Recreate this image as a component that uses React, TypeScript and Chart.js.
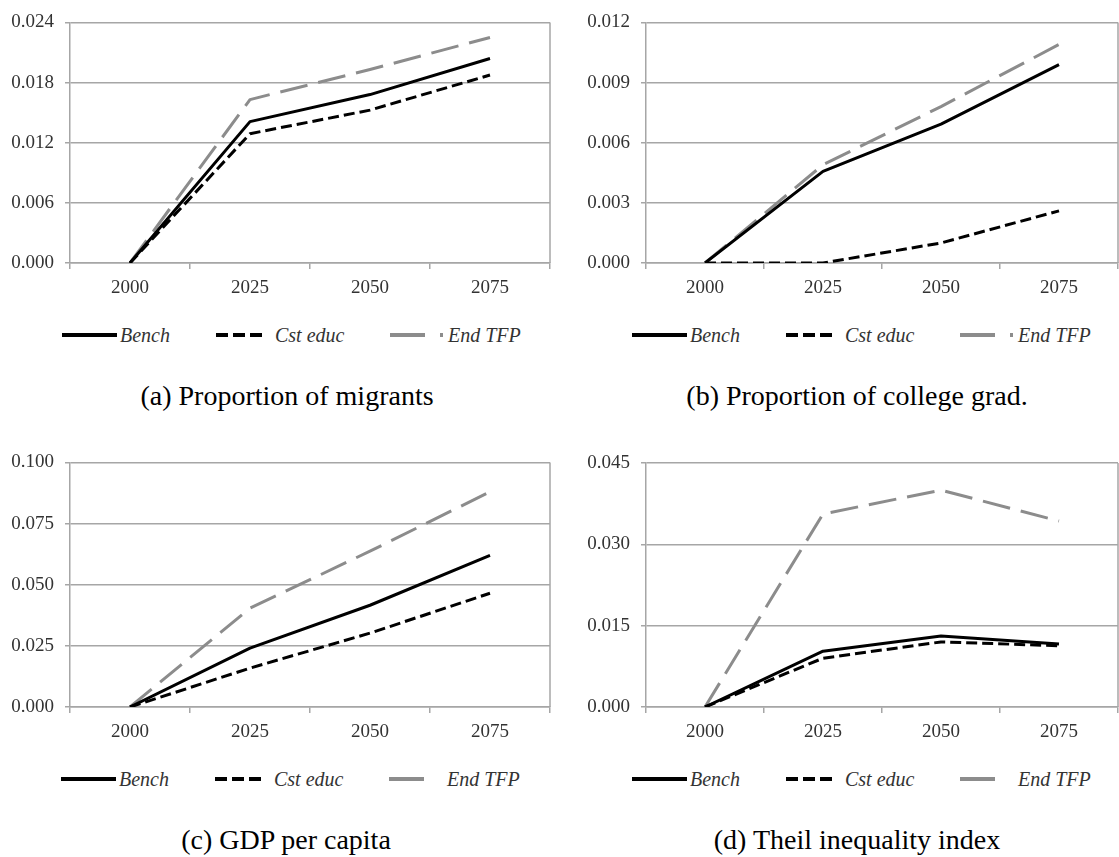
import React, { useEffect, useRef } from 'react';
import { Chart, registerables } from 'chart.js';

Chart.register(...registerables);

// ---------- data ----------
const YEARS = ['2000', '2025', '2050', '2075'];
const SERIES = ['Bench', 'Cst educ', 'End TFP'];

// (a) Proportion of migrants
const MIGRANTS_BENCH = [0, 0.0141, 0.0168, 0.0204];
const MIGRANTS_CST = [0, 0.0129, 0.01525, 0.01875];
const MIGRANTS_TFP = [0, 0.0163, 0.0193, 0.0225];
// (b) Proportion of college grad.
const COLLEGE_BENCH = [0, 0.00457, 0.00693, 0.00989];
const COLLEGE_CST = [0, 0, 0.001, 0.0026];
const COLLEGE_TFP = [0, 0.0049, 0.0078, 0.0109];
// (c) GDP per capita
const GDP_BENCH = [0, 0.0241, 0.0416, 0.062];
const GDP_CST = [0, 0.0159, 0.0302, 0.0465];
const GDP_TFP = [0, 0.0404, 0.0637, 0.088];
// (d) Theil inequality index
const THEIL_BENCH = [0, 0.0103, 0.0131, 0.0116];
const THEIL_CST = [0, 0.009, 0.012, 0.0113];
const THEIL_TFP = [0, 0.0356, 0.04, 0.0343];

const Y_MAX = [0.024, 0.012, 0.1, 0.045];
const Y_STEP = [0.006, 0.003, 0.025, 0.015];
const CAPTIONS = [
  '(a) Proportion of migrants',
  '(b) Proportion of college grad.',
  '(c) GDP per capita',
  '(d) Theil inequality index',
];

// ---------- styles ----------
const GRID = '#a6a6a6';
const TEXT = '#333333';
const TICK_FONT = { family: 'Liberation Serif', size: 19 };
const LINE_STYLES = [
  { color: '#000000', dash: [] as number[], width: 3 },
  { color: '#000000', dash: [11, 5], width: 3 },
  { color: '#8c8c8c', dash: [28, 11], width: 3 },
];

const framePlugin = {
  id: 'frame',
  beforeDatasetsDraw(chart: any) {
    const { ctx, chartArea: a } = chart;
    ctx.save();
    ctx.strokeStyle = GRID;
    ctx.lineWidth = 1.5;
    ctx.beginPath();
    ctx.moveTo(a.right, a.top);
    ctx.lineTo(a.right, a.bottom);
    ctx.stroke();
    ctx.restore();
  },
};

type Area = { left: number; right: number; top: number; bottom: number };

function Panel(props: {
  idx: number;
  series: number[][];
  left: number;
  top: number;
  width: number;
  height: number;
  area: Area;
}) {
  const { idx, series, left, top, width, height, area } = props;
  const ref = useRef<HTMLCanvasElement>(null);
  useEffect(() => {
    if (!ref.current) return;
    const chart = new Chart(ref.current, {
      type: 'line',
      data: {
        labels: YEARS,
        datasets: series.map((d, i) => ({
          label: SERIES[i],
          data: d,
          borderColor: LINE_STYLES[i].color,
          backgroundColor: LINE_STYLES[i].color,
          borderWidth: LINE_STYLES[i].width,
          borderDash: LINE_STYLES[i].dash,
          borderCapStyle: 'butt',
          borderJoinStyle: 'round',
          pointRadius: 0,
          fill: false,
          tension: 0,
        })),
      },
      options: {
        responsive: false,
        animation: false,
        layout: { padding: { left: 0, right: width - area.right, top: area.top, bottom: 0 } },
        plugins: { legend: { display: false }, tooltip: { enabled: false } },
        scales: {
          x: {
            type: 'category',
            offset: true,
            grid: {
              offset: true,
              drawOnChartArea: false,
              drawTicks: true,
              tickLength: 6,
              tickColor: GRID,
              tickWidth: 1.5,
              color: GRID,
              lineWidth: 1.5,
            },
            border: { display: true, color: GRID, width: 1.5 },
            ticks: { font: TICK_FONT, color: TEXT, padding: 8, maxRotation: 0, autoSkip: false },
            afterFit: (s: any) => {
              s.height = height - area.bottom;
            },
          },
          y: {
            min: 0,
            max: Y_MAX[idx],
            ticks: {
              stepSize: Y_STEP[idx],
              callback: (v: any) => Number(v).toFixed(3),
              font: TICK_FONT,
              color: TEXT,
              padding: 11,
            },
            grid: { color: GRID, lineWidth: 1.5, tickLength: 5, tickColor: GRID },
            border: { display: true, color: GRID, width: 1.5 },
            afterFit: (s: any) => {
              s.width = area.left;
            },
          },
        },
      } as any,
      plugins: [framePlugin],
    });
    return () => chart.destroy();
  }, []);
  return (
    <canvas
      ref={ref}
      width={width}
      height={height}
      style={{ position: 'absolute', left, top, width, height }}
    />
  );
}

function Legend(props: { x0: number; yc: number; dot: boolean }) {
  const { x0, yc, dot } = props;
  const textStyle = (x: number): React.CSSProperties => ({
    position: 'absolute',
    left: x,
    top: yc - 10,
    font: 'italic 20px "Liberation Serif"',
    lineHeight: '20px',
    color: TEXT,
    whiteSpace: 'nowrap',
  });
  const sample = (x: number, w: number, color: string, dash?: string) => (
    <svg width={w} height={6} style={{ position: 'absolute', left: x, top: yc - 3 }}>
      <line x1={0} y1={3} x2={w} y2={3} stroke={color} strokeWidth={4} strokeDasharray={dash} />
    </svg>
  );
  return (
    <>
      {sample(x0, 55, LINE_STYLES[0].color)}
      <div style={textStyle(x0 + 58)}>{SERIES[0]}</div>
      {sample(x0 + 154, 46, LINE_STYLES[1].color, '12 5')}
      <div style={textStyle(x0 + 213)}>{SERIES[1]}</div>
      {sample(x0 + 328, 35, LINE_STYLES[2].color)}
      {dot ? sample(x0 + 378, 3, LINE_STYLES[2].color) : null}
      <div style={textStyle(x0 + 386)}>{SERIES[2]}</div>
    </>
  );
}

function Caption(props: { text: string; cx: number; top: number }) {
  return (
    <div
      style={{
        position: 'absolute',
        left: props.cx - 300,
        width: 600,
        top: props.top,
        textAlign: 'center',
        font: '28px "Liberation Serif"',
        lineHeight: '28px',
        color: '#000',
        whiteSpace: 'nowrap',
      }}
    >
      {props.text}
    </div>
  );
}

export default function App() {
  return (
    <div
      style={{
        position: 'absolute',
        left: 0,
        top: 0,
        width: 1119,
        height: 857,
        background: '#ffffff',
        overflow: 'hidden',
      }}
    >
      <Panel
        idx={0}
        series={[MIGRANTS_BENCH, MIGRANTS_CST, MIGRANTS_TFP]}
        left={0}
        top={0}
        width={560}
        height={310}
        area={{ left: 70, right: 550, top: 17, bottom: 263 }}
      />
      <Panel
        idx={1}
        series={[COLLEGE_BENCH, COLLEGE_CST, COLLEGE_TFP]}
        left={560}
        top={0}
        width={559}
        height={310}
        area={{ left: 86, right: 558, top: 19, bottom: 263 }}
      />
      <Panel
        idx={2}
        series={[GDP_BENCH, GDP_CST, GDP_TFP]}
        left={0}
        top={440}
        width={560}
        height={310}
        area={{ left: 70, right: 550, top: 22, bottom: 267 }}
      />
      <Panel
        idx={3}
        series={[THEIL_BENCH, THEIL_CST, THEIL_TFP]}
        left={560}
        top={440}
        width={559}
        height={310}
        area={{ left: 86, right: 558, top: 23, bottom: 267 }}
      />
      <Legend x0={62} yc={335} dot={true} />
      <Legend x0={632} yc={335} dot={true} />
      <Legend x0={61} yc={779} dot={false} />
      <Legend x0={632} yc={779} dot={false} />
      <Caption text={CAPTIONS[0]} cx={287} top={382} />
      <Caption text={CAPTIONS[1]} cx={857} top={382} />
      <Caption text={CAPTIONS[2]} cx={286} top={826} />
      <Caption text={CAPTIONS[3]} cx={857} top={826} />
    </div>
  );
}
